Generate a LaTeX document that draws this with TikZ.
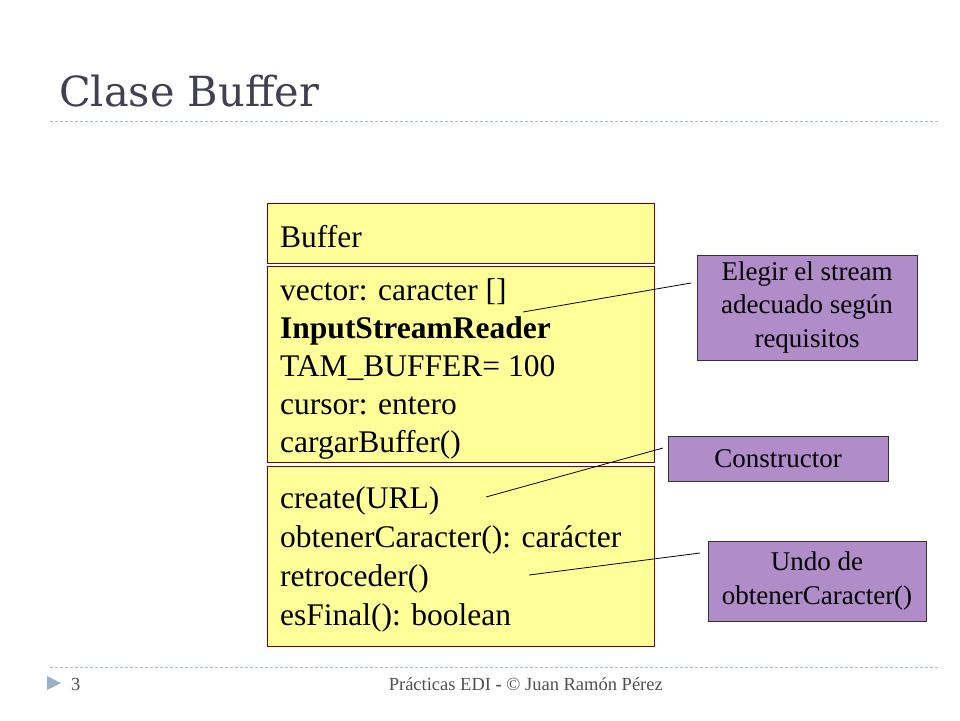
\documentclass[tikz,border=0pt]{standalone}
\usepackage{fontspec}
\setmainfont{Liberation Serif}
\newfontfamily\titlefont{DejaVu Serif}
\usetikzlibrary{positioning}
\definecolor{ybox}{HTML}{FFFF99}
\definecolor{yborder}{HTML}{800000}
\definecolor{pbox}{HTML}{B08CC8}
\definecolor{titlecol}{HTML}{404050}
\definecolor{dashcol}{HTML}{A8BCCC}
\definecolor{tri}{HTML}{9AB0C8}
\definecolor{footcol}{HTML}{505050}
\tikzset{
  classbox/.style={draw=yborder, line width=1pt, fill=ybox},
  callout/.style={draw=black!80, line width=0.8pt, fill=pbox, align=center,
    font=\fontsize{27}{33.5}\selectfont, inner sep=0pt},
  member/.style={anchor=base west, inner sep=0pt, font=\fontsize{31.5}{38}\selectfont},
  sep/.style={dashcol, line width=1pt, dash pattern=on 3pt off 2pt},
  link/.style={black, line width=0.8pt}
}
\begin{document}
\begin{tikzpicture}[x=1pt,y=-1pt]
\useasboundingbox (0,0) rectangle (960,720);
\fill[white] (0,0) rectangle (960,720);
% title
\node[anchor=base west, inner sep=0pt, text=titlecol, font=\titlefont\fontsize{41.5}{48}\selectfont] (title) at (59,106) {Clase Buffer};
\draw[sep] (50,121) -- (940,121);
% class boxes
\draw[classbox] (267,203) rectangle (654,263);
\draw[classbox] (267,266) rectangle (654,462);
\draw[classbox] (267,466) rectangle (654,646);
\node[member] (cname) at (280,247) {Buffer};
\node[member] (a1) at (280,300) {vector: caracter []};
\node[member] (a2) at (280,338) {\bfseries InputStreamReader};
\node[member] (a3) at (280,376) {TAM\_BUFFER= 100};
\node[member] (a4) at (280,414) {cursor: entero};
\node[member] (a5) at (280,452) {cargarBuffer()};
\node[member] (m1) at (280,508) {create(URL)};
\node[member] (m2) at (280,547) {obtenerCaracter(): carácter};
\node[member] (m3) at (280,586) {retroceder()};
\node[member] (m4) at (280,625) {esFinal(): boolean};
% callouts
\node[callout, minimum width=220pt, minimum height=105pt] (c1) at (807,307.5) {Elegir el stream\\adecuado según\\requisitos};
\node[callout, minimum width=220pt, minimum height=45pt] (c2) at (778,458.5) {Constructor};
\node[callout, minimum width=218pt, minimum height=80pt] (c3) at (817,581) {Undo de\\obtenerCaracter()};
% connectors
\coordinate (l1a) at (523,312); \coordinate (l1b) at (691,283);
\coordinate (l2a) at (486,497); \coordinate (l2b) at (663,448);
\coordinate (l3a) at (529,575); \coordinate (l3b) at (700,553);
\draw[link] (l1a) -- (l1b);
\draw[link] (l2a) -- (l2b);
\draw[link] (l3a) -- (l3b);
% footer
\draw[sep] (50,667) -- (940,667);
\fill[tri] (47,676) -- (61,683) -- (47,690) -- cycle;
\node[anchor=base west, inner sep=0pt, text=footcol, font=\fontsize{18.5}{21}\selectfont] (pnum) at (71,690) {3};
\node[anchor=base east, inner sep=0pt, text=footcol, font=\fontsize{18.5}{21}\selectfont] (foot) at (663,690) {Prácticas EDI \textbf{-} © Juan Ramón Pérez};
\end{tikzpicture}
\end{document}
